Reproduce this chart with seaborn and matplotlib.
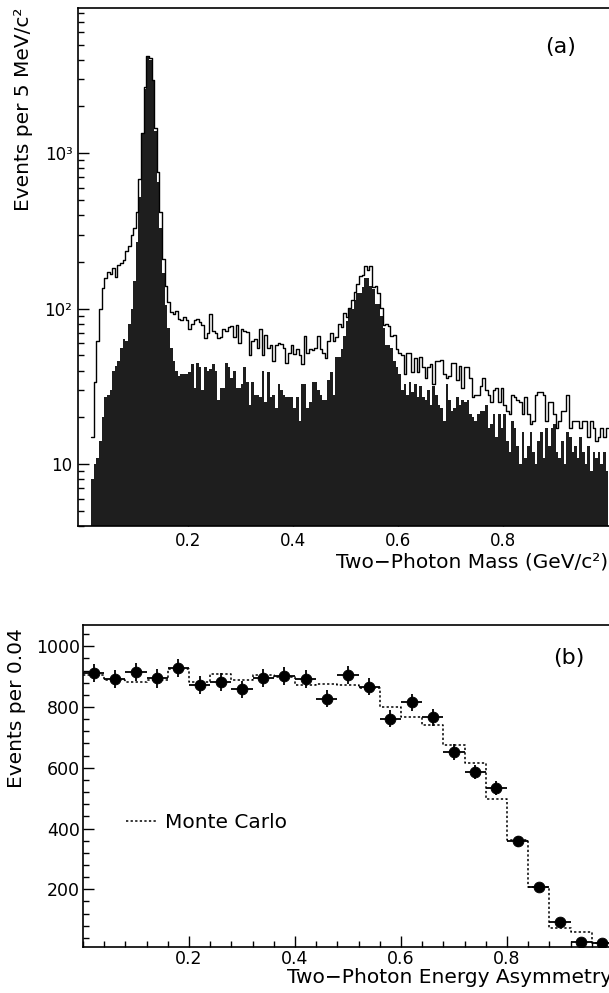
import numpy as np
import pandas as pd
import matplotlib
matplotlib.use('Agg')
import matplotlib.pyplot as plt
import seaborn as sns
from matplotlib.ticker import FixedLocator, LogLocator, NullFormatter, MultipleLocator

# ---- panel (a): two-photon mass, 5 MeV bins starting at 0.015 GeV ----
mass_lo = 0.015
mass_bw = 0.005
mass_all = [15, 34, 62, 100, 135, 158, 172,
            168, 184, 160, 190, 198, 206, 236, 255, 300, 330,
            420, 680, 1350, 2650, 4250, 4100, 2950, 1450, 760, 420,
            210, 140, 110, 95, 92, 96, 86, 85, 88, 84,
            74, 80, 85, 86, 82, 78, 65, 70, 93, 72,
            70, 65, 66, 74, 72, 76, 77, 66, 78, 60,
            74, 72, 71, 50, 62, 64, 56, 74, 50, 68,
            56, 58, 46, 58, 60, 59, 56, 45, 52, 58,
            51, 55, 50, 44, 67, 52, 55, 54, 56, 67,
            55, 52, 48, 62, 70, 62, 66, 80, 76, 94,
            88, 101, 113, 128, 145, 163, 165, 189, 178, 189,
            137, 140, 127, 101, 78, 80, 77, 67, 68, 55,
            52, 50, 38, 52, 52, 39, 48, 39, 49, 42,
            36, 42, 44, 33, 46, 46, 47, 38, 36, 37,
            45, 45, 35, 43, 31, 42, 42, 36, 27, 28,
            28, 32, 36, 30, 28, 25, 30, 31, 25, 31,
            24, 22, 21, 28, 27, 26, 25, 21, 27, 21,
            18, 19, 28, 29, 29, 28, 19, 25, 25, 21,
            17, 19, 22, 22, 28, 17, 19, 19, 19, 17,
            19, 19, 15, 19, 17, 14, 15, 17, 15, 17]
mass_sel = [8, 10, 11, 14, 20, 27, 28,
            30, 40, 43, 46, 56, 64, 62, 80, 100, 150,
            270, 520, 1330, 2600, 4150, 4000, 2900, 1400, 650, 330,
            170, 105, 75, 56, 46, 40, 37, 38, 38, 38,
            39, 44, 31, 45, 42, 30, 42, 40, 41, 44,
            40, 26, 31, 31, 45, 42, 36, 40, 31, 31,
            33, 42, 34, 24, 34, 28, 28, 27, 40, 25,
            39, 27, 28, 23, 33, 30, 28, 27, 27, 27,
            23, 27, 19, 33, 33, 23, 25, 34, 34, 30,
            28, 26, 26, 35, 39, 28, 49, 49, 55, 67,
            83, 100, 100, 113, 127, 127, 137, 158, 158, 140,
            133, 108, 108, 90, 75, 58, 58, 56, 46, 42,
            38, 30, 33, 28, 34, 29, 33, 27, 32, 27,
            26, 30, 24, 32, 28, 24, 23, 19, 33, 26,
            22, 23, 27, 24, 26, 25, 26, 21, 20, 19,
            21, 22, 22, 24, 17, 18, 21, 15, 21, 17,
            21, 14, 12, 19, 17, 13, 10, 16, 11, 13,
            16, 12, 10, 14, 16, 11, 17, 13, 17, 18,
            12, 11, 14, 10, 16, 15, 12, 13, 11, 15,
            12, 10, 13, 9, 12, 11, 12, 10, 12, 9]
mass_ticks = [0.2, 0.4, 0.6, 0.8]

# ---- panel (b): energy asymmetry, bins of 0.04 ----
asym_counts = [912, 893, 916, 894, 928, 872, 883, 858, 896, 902, 893, 828, 905,
               867, 762, 815, 766, 652, 586, 535, 358, 206, 92, 26, 24]
asym_err = [30, 30, 30, 30, 30, 30, 30, 29, 30, 30, 30, 29, 30,
            29, 28, 29, 28, 26, 24, 23, 19, 14, 10, 5, 5]
asym_mc = [905, 890, 883, 890, 925, 883, 910, 888, 906, 898, 872, 877, 872,
           861, 801, 768, 740, 674, 616, 497, 361, 208, 71, 60, 22]
asym_ticks = [0.2, 0.4, 0.6, 0.8]

mass_edges = mass_lo + mass_bw * np.arange(len(mass_all) + 1)
df_mass = pd.DataFrame({'mass': mass_edges[:-1] + mass_bw / 2,
                        'all': mass_all, 'sel': mass_sel})
asym_edges = np.linspace(0, 1.0, len(asym_counts) + 1)
df_asym = pd.DataFrame({'asym': (asym_edges[:-1] + asym_edges[1:]) / 2,
                        'data': asym_counts, 'err': asym_err, 'mc': asym_mc})

sns.set_style('ticks')
plt.rcParams['font.family'] = ['DejaVu Sans']
plt.rcParams['axes.linewidth'] = 1.2
for key in ['text.color', 'axes.labelcolor', 'axes.edgecolor',
            'xtick.color', 'ytick.color']:
    plt.rcParams[key] = 'black'

LABEL_FS = 14.5

fig = plt.figure(figsize=(6.09, 9.93), dpi=100)
ax1 = fig.add_axes([78/609, 1-526/993, 534/609, 518/993])
ax2 = fig.add_axes([83/609, 1-947/993, 530/609, 322/993])

# panel (a)
ax1.set_yscale('log')
sns.histplot(data=df_mass, x='mass', weights='sel', bins=list(mass_edges),
             element='step', fill=True, color='#1e1e1e', alpha=1, linewidth=0, ax=ax1)
sns.histplot(data=df_mass, x='mass', weights='all', bins=list(mass_edges),
             element='step', fill=False, color='black', linewidth=1.0, ax=ax1)
ax1.set_xlim(-0.01, 1.007)
ax1.set_ylim(4, 8600)
ax1.yaxis.set_major_locator(FixedLocator([10, 100, 1000]))
ax1.set_yticklabels(['10', '10²', '10³'])
ax1.yaxis.set_minor_locator(LogLocator(base=10, subs=np.arange(2, 10)))
ax1.yaxis.set_minor_formatter(NullFormatter())
ax1.set_xticks(mass_ticks)
ax1.set_xticklabels([f'{t:.1f}' for t in mass_ticks])
ax1.tick_params(axis='both', which='major', direction='in', length=8, width=1,
                labelsize=12, pad=4)
ax1.tick_params(axis='y', which='minor', direction='in', length=4, width=1)
ax1.set_xlabel('Two\u2212Photon Mass (GeV/c²)', fontsize=LABEL_FS, ha='right')
ax1.xaxis.set_label_coords(0.9925, -0.051)
ax1.set_ylabel('Events per 5 MeV/c²', fontsize=LABEL_FS, loc='top')
ax1.yaxis.set_label_coords(-0.085, 1.0)
ax1.text(0.904, 0.925, '(a)', transform=ax1.transAxes, ha='center', va='center',
         fontsize=16)

# panel (b)
sns.histplot(data=df_asym, x='asym', weights='mc', bins=list(asym_edges),
             element='step', fill=False, color='black', linewidth=1.1,
             linestyle=(0, (1.5, 1.5)), label='Monte Carlo', ax=ax2)
ax2.errorbar(df_asym['asym'], df_asym['data'], yerr=df_asym['err'], xerr=0.02,
             fmt='none', ecolor='black', elinewidth=1.3, capsize=0)
sns.scatterplot(data=df_asym, x='asym', y='data', marker='o', s=60, color='black',
                edgecolor='black', ax=ax2, zorder=3)
ax2.set_xlim(0, 1.0)
ax2.set_ylim(10, 1070)
ax2.set_xticks(asym_ticks)
ax2.set_xticklabels([f'{t:.1f}' for t in asym_ticks])
ax2.xaxis.set_minor_locator(MultipleLocator(0.04))
ax2.yaxis.set_major_locator(MultipleLocator(200))
ax2.yaxis.set_minor_locator(MultipleLocator(40))
ax2.tick_params(axis='both', which='major', direction='in', length=8, width=1,
                labelsize=12.5, pad=2)
ax2.tick_params(axis='both', which='minor', direction='in', length=4.5, width=1)
ax2.set_xlabel('Two\u2212Photon Energy Asymmetry', fontsize=LABEL_FS, ha='left')
ax2.xaxis.set_label_coords(0.385, -0.066)
ax2.set_ylabel('Events per 0.04', fontsize=LABEL_FS, loc='top')
ax2.yaxis.set_label_coords(-0.108, 0.99)
ax2.text(0.917, 0.897, '(b)', transform=ax2.transAxes, ha='center', va='center',
         fontsize=16)
ax2.legend(loc='center left', bbox_to_anchor=(0.081, 0.388), frameon=False,
           borderpad=0, borderaxespad=0, handlelength=1.6, handletextpad=0.35,
           fontsize=LABEL_FS)

plt.savefig('out.png', dpi=100)
